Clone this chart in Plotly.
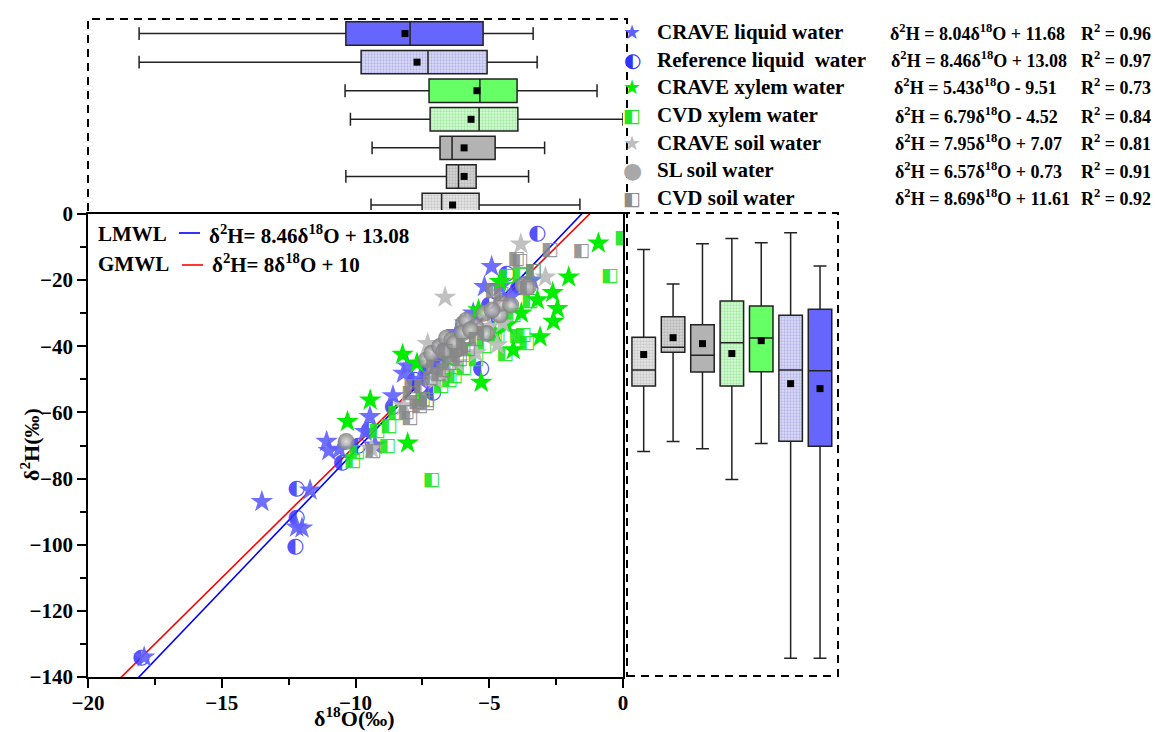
import plotly.graph_objects as go

W, H = 1155, 732
def fx(px): return px / W
def fy(py): return 1 - py / H

SERIF = "Liberation Serif"
GLYPH = "DejaVu Sans"

# ---------------- data ----------------
groups = ["CVD soil water", "SL soil water", "CRAVE soil water", "CVD xylem water",
          "CRAVE xylem water", "Reference liquid  water", "CRAVE liquid water"]
positions = [1, 2, 3, 4, 5, 6, 7]

# box statistics of δ18O (top panel)
o18_low  = [-9.42, -10.36, -9.38, -10.19, -10.39, -18.09, -18.09]
o18_q1   = [-7.51, -6.60, -6.84, -7.21, -7.25, -9.79, -10.36]
o18_med  = [-6.78, -6.15, -6.39, -5.38, -5.35, -7.29, -7.96]
o18_q3   = [-5.38, -5.49, -4.78, -3.93, -3.96, -5.08, -5.23]
o18_high = [-1.61, -3.53, -2.93, 0.0, -0.97, -3.21, -3.36]
o18_mean = [-6.37, -5.94, -5.94, -5.68, -5.46, -7.70, -8.15]

# box statistics of δ2H (right panel)
h2_low  = [-71.8, -68.8, -71.0, -80.3, -69.4, -134.3, -134.3]
h2_q1   = [-52.0, -41.8, -47.8, -52.0, -47.7, -68.7, -70.2]
h2_med  = [-47.2, -40.3, -42.7, -38.9, -37.5, -47.2, -47.4]
h2_q3   = [-37.3, -31.1, -33.5, -26.3, -27.8, -30.6, -28.8]
h2_high = [-10.7, -21.2, -9.0, -7.4, -8.7, -5.7, -15.7]
h2_mean = [-42.5, -37.4, -39.2, -42.2, -38.3, -51.3, -52.8]

# scatter samples
crave_liq_o = [-17.9, -13.5, -11.7, -12.2, -12.0, -11.08, -11.0, -10.6, -9.46, -9.64, -9.27,
               -8.06, -8.21, -6.22, -4.91, -5.18, -7.0, -6.6, -5.6, -4.2, -3.4, -7.6, -8.6,
               -4.6, -5.9, -6.9]
crave_liq_h = [-134.0, -87.0, -83.5, -94.7, -95.0, -68.8, -71.6, -71.2, -61.3, -65.8, -69.9,
               -46.0, -48.2, -35.9, -15.9, -22.0, -45.0, -40.0, -30.0, -25.0, -20.0, -50.0, -55.0,
               -22.0, -33.0, -43.0]

ref_liq_o = [-18.0, -12.2, -12.2, -12.25, -10.5, -9.9, -9.5, -8.6, -7.1, -7.8, -7.3, -5.3,
             -6.5, -6.0, -4.8, -5.0, -4.35, -3.9, -3.2, -6.8, -7.6]
ref_liq_h = [-134.1, -83.0, -91.7, -100.6, -75.2, -70.0, -65.3, -58.3, -54.1, -50.0, -47.5, -46.8,
             -43.0, -38.0, -31.0, -27.3, -18.2, -22.0, -6.0, -45.0, -52.0]

crave_xyl_o = [-10.3, -9.45, -8.24, -8.05, -7.7, -5.3, -5.4, -4.35, -4.1, -4.6, -3.2, -3.1,
               -2.6, -2.45, -2.63, -2.03, -0.92, -6.0, -6.5, -4.8, -5.8, -3.8]
crave_xyl_h = [-62.8, -56.3, -42.5, -69.3, -45.1, -50.9, -29.0, -33.6, -41.1, -20.5, -26.0, -37.2,
               -32.5, -28.6, -23.8, -19.1, -8.8, -40.0, -44.0, -36.0, -35.0, -30.0]

cvd_xyl_o = [-10.1, -9.95, -9.2, -8.8, -8.75, -8.5, -7.15, -7.5, -6.5, -6.3, -5.95, -4.4,
             -3.6, -3.95, -4.7, -4.8, -3.73, -4.1, -3.48, -4.35, -3.85, -3.35, -0.49, 0.0,
             -6.8, -5.5, -5.2]
cvd_xyl_h = [-74.9, -71.9, -65.8, -70.2, -64.3, -60.3, -80.4, -56.0, -50.2, -49.2, -46.7, -42.3,
             -39.1, -37.1, -37.1, -36.6, -36.6, -30.5, -26.5, -18.7, -18.4, -17.4, -18.7, -7.4,
             -52.0, -44.0, -40.0]

crave_soil_o = [-9.4, -8.2, -7.3, -7.0, -6.8, -6.65, -6.4, -6.2, -5.5, -5.0, -4.7, -4.5,
                -3.82, -2.9, -5.8]
crave_soil_h = [-71.0, -58.0, -39.2, -50.0, -47.8, -25.2, -43.0, -45.0, -42.0, -34.0, -39.6, -33.0,
                -9.1, -19.1, -36.0]

sl_soil_o = [-10.35, -7.35, -7.15, -6.85, -6.6, -6.4, -6.2, -6.1, -5.97, -5.85, -5.5, -5.1,
             -4.6, -4.55, -4.2, -3.73, -3.54, -6.7, -6.3, -5.2, -4.9, -6.0, -5.7]
sl_soil_h = [-68.8, -44.1, -42.1, -40.1, -37.6, -38.1, -41.0, -40.5, -33.1, -32.1, -34.1, -36.1,
             -30.5, -27.0, -27.5, -21.5, -22.0, -41.5, -39.0, -30.0, -29.0, -36.0, -35.0]

cvd_soil_o = [-9.35, -7.96, -7.34, -7.71, -7.96, -7.34, -7.9, -7.53, -7.21, -6.72, -7.09, -6.22,
              -6.65, -5.97, -5.5, -5.2, -4.85, -4.55, -3.6, -3.98, -3.85, -3.35, -2.73, -1.55,
              -6.9, -6.5, -6.1, -5.8, -7.6, -8.1]
cvd_soil_h = [-71.6, -61.8, -57.3, -56.8, -54.2, -56.2, -52.2, -52.2, -49.7, -47.2, -46.2, -42.6,
              -41.6, -39.6, -38.0, -36.0, -23.5, -24.2, -22.5, -13.6, -14.4, -17.4, -10.9, -11.4,
              -48.5, -45.0, -44.0, -41.0, -58.0, -60.0]

# water lines (slope, intercept)
lmwl = (8.46, 13.08)
gmwl = (8.0, 10.0)
line_x = [-20, 0]

# legend equations
eqs = ["δ<sup>2</sup>H = 8.04δ<sup>18</sup>O + 11.68",
       "δ<sup>2</sup>H = 8.46δ<sup>18</sup>O + 13.08",
       "δ<sup>2</sup>H = 5.43δ<sup>18</sup>O - 9.51",
       "δ<sup>2</sup>H = 6.79δ<sup>18</sup>O - 4.52",
       "δ<sup>2</sup>H = 7.95δ<sup>18</sup>O + 7.07",
       "δ<sup>2</sup>H = 6.57δ<sup>18</sup>O + 0.73",
       "δ<sup>2</sup>H = 8.69δ<sup>18</sup>O + 11.61"]
r2 = ["0.96", "0.97", "0.73", "0.84", "0.81", "0.91", "0.92"]
legend_names = ["CRAVE liquid water", "Reference liquid  water", "CRAVE xylem water",
                "CVD xylem water", "CRAVE soil water", "SL soil water", "CVD soil water"]

# ---------------- styles ----------------
box_bg = ["#E6E6E6", "#D6D6D6", "#B3B3B3", "#D8F8D8", "#66FF66", "#DCDCF6", "#6666FF"]
box_fg = ["#A8A8A8", "#9A9A9A", "#B3B3B3", "#66E066", "#66FF66", "#8C8CE0", "#6666FF"]
textured = [True, True, False, True, False, True, False]

fig = go.Figure()

# lines
fig.add_trace(go.Scatter(x=line_x, y=[gmwl[0] * v + gmwl[1] for v in line_x], mode="lines",
                         line=dict(color="#FF0000", width=1.6), xaxis="x", yaxis="y"))
fig.add_trace(go.Scatter(x=line_x, y=[lmwl[0] * v + lmwl[1] for v in line_x], mode="lines",
                         line=dict(color="#0000FF", width=1.6), xaxis="x", yaxis="y"))

def glyphs(xs, ys, ch, color, size):
    return go.Scatter(x=xs, y=ys, mode="text", text=[ch] * len(xs),
                      textposition="middle center",
                      textfont=dict(family=GLYPH, size=size, color=color),
                      xaxis="x", yaxis="y")

fig.add_trace(glyphs(ref_liq_o, ref_liq_h, "◐", "rgba(50,50,255,0.85)", 21))
fig.add_trace(go.Scatter(x=crave_liq_o, y=crave_liq_h, mode="markers",
                         marker=dict(symbol="star", size=17, color="rgba(95,95,255,0.9)", line=dict(width=0))))
fig.add_trace(go.Scatter(x=crave_xyl_o, y=crave_xyl_h, mode="markers",
                         marker=dict(symbol="star", size=17, color="rgba(0,238,0,1)", line=dict(width=0))))
fig.add_trace(glyphs(cvd_xyl_o, cvd_xyl_h, "◧", "rgba(20,230,20,0.9)", 19))
fig.add_trace(go.Scatter(x=crave_soil_o, y=crave_soil_h, mode="markers",
                         marker=dict(symbol="star", size=17, color="rgba(190,190,190,0.95)", line=dict(width=0))))
fig.add_trace(go.Scatter(x=sl_soil_o, y=sl_soil_h, mode="markers",
                         marker=dict(symbol="circle", size=17, color="rgba(125,125,125,0.85)",
                                     gradient=dict(type="radial", color="rgba(215,215,215,0.85)"),
                                     line=dict(width=0))))
fig.add_trace(glyphs(cvd_soil_o, cvd_soil_h, "◧", "rgba(135,135,135,0.85)", 19))

def pattern(i):
    if textured[i]:
        return dict(shape=".", fgcolor=box_fg[i], bgcolor=box_bg[i], size=3, solidity=0.45)
    return None

# top boxes (horizontal): textured body as bars, box outline/whiskers on top
for i, p in enumerate(positions):
    fig.add_trace(go.Bar(y=[p], x=[o18_q3[i] - o18_q1[i]], base=[o18_q1[i]], orientation="h",
                         width=0.82, marker=dict(color=box_bg[i], line=dict(width=0), pattern=pattern(i)),
                         xaxis="x2", yaxis="y2"))
for i, p in enumerate(positions):
    fig.add_trace(go.Box(y=[p], q1=[o18_q1[i]], median=[o18_med[i]], q3=[o18_q3[i]],
                         lowerfence=[o18_low[i]], upperfence=[o18_high[i]],
                         orientation="h", width=0.82, whiskerwidth=0.55,
                         fillcolor="rgba(0,0,0,0)", line=dict(color="#222222", width=1.5),
                         boxpoints=False, xaxis="x2", yaxis="y2"))
fig.add_trace(go.Scatter(x=o18_mean, y=positions, mode="markers",
                         marker=dict(symbol="square", size=7, color="black"),
                         xaxis="x2", yaxis="y2"))

# right boxes (vertical)
for i, p in enumerate(positions):
    fig.add_trace(go.Bar(x=[p], y=[h2_q3[i] - h2_q1[i]], base=[h2_q1[i]],
                         width=0.8, marker=dict(color=box_bg[i], line=dict(width=0), pattern=pattern(i)),
                         xaxis="x3", yaxis="y3"))
for i, p in enumerate(positions):
    fig.add_trace(go.Box(x=[p], q1=[h2_q1[i]], median=[h2_med[i]], q3=[h2_q3[i]],
                         lowerfence=[h2_low[i]], upperfence=[h2_high[i]],
                         width=0.8, whiskerwidth=0.55,
                         fillcolor="rgba(0,0,0,0)", line=dict(color="#222222", width=1.5),
                         boxpoints=False, xaxis="x3", yaxis="y3"))
fig.add_trace(go.Scatter(x=positions, y=h2_mean, mode="markers",
                         marker=dict(symbol="square", size=7, color="black"),
                         xaxis="x3", yaxis="y3"))

tickfont = dict(family=SERIF, size=21, color="black", weight="bold")
main_x = [fx(88), fx(623)]
main_y = [fy(677), fy(214)]

fig.update_layout(
    width=W, height=H, margin=dict(l=0, r=0, t=0, b=0, autoexpand=False),
    paper_bgcolor="white", plot_bgcolor="white", showlegend=False,
    barmode="overlay", boxmode="overlay",
    xaxis=dict(domain=main_x, range=[-20, 0], anchor="y", showgrid=False, zeroline=False,
               automargin=False,
               showline=True, mirror=True, linecolor="black", linewidth=1.5,
               ticks="outside", ticklen=9, tickwidth=1.5, tickcolor="black", dtick=5,
               tickfont=tickfont, ticklabelstandoff=-3,
               minor=dict(ticks="outside", ticklen=6, dtick=2.5, tickcolor="black", tickwidth=1.5)),
    yaxis=dict(domain=main_y, range=[-140, 0], anchor="x", showgrid=False, zeroline=False,
               automargin=False,
               showline=True, mirror=True, linecolor="black", linewidth=1.5,
               ticks="outside", ticklen=9, tickwidth=1.5, tickcolor="black", dtick=20,
               tickfont=tickfont,
               minor=dict(ticks="outside", ticklen=6, dtick=10, tickcolor="black", tickwidth=1.5)),
    xaxis2=dict(domain=main_x, range=[-20, 0], anchor="y2", visible=False, automargin=False),
    yaxis2=dict(domain=[fy(210), fy(20)], range=[0.825, 7.475], anchor="x2", visible=False, automargin=False),
    xaxis3=dict(domain=[fx(627), fx(838)], range=[0.432, 7.612], anchor="y3", visible=False, automargin=False),
    yaxis3=dict(domain=main_y, range=[-140, 0], anchor="x3", visible=False, automargin=False),
)

# axis titles
title_font = dict(family=SERIF, size=22, color="black", weight="bold")
fig.add_annotation(xref="paper", yref="paper", x=fx(355), y=fy(717), text="δ<sup>18</sup>O(‰)",
                   showarrow=False, xanchor="center", yanchor="middle", font=title_font)
fig.add_annotation(xref="paper", yref="paper", x=fx(30), y=fy(445), text="δ<sup>2</sup>H(‰)",
                   showarrow=False, xanchor="center", yanchor="middle", textangle=-90, font=title_font)

# dashed frames
dash = "8px,6px"
fig.add_shape(type="rect", xref="paper", yref="paper", x0=fx(88), x1=fx(627), y0=fy(213), y1=fy(19),
              line=dict(color="black", width=2, dash=dash))
fig.add_shape(type="rect", xref="paper", yref="paper", x0=fx(627), x1=fx(838), y0=fy(676), y1=fy(213),
              line=dict(color="black", width=2, dash=dash))

# inner legend (water lines)
fig.add_shape(type="line", xref="paper", yref="paper", x0=fx(179), x1=fx(200), y0=fy(233), y1=fy(233),
              line=dict(color="#0000FF", width=1.6))
fig.add_shape(type="line", xref="paper", yref="paper", x0=fx(182), x1=fx(203), y0=fy(265), y1=fy(265),
              line=dict(color="#FF0000", width=1.6))
inner_font = dict(family=SERIF, size=21, color="black", weight="bold")
for txt, x, y in [("LMWL", 96, 234), ("GMWL", 96, 264),
                  ("δ<sup>2</sup>H= 8.46δ<sup>18</sup>O + 13.08", 207, 234),
                  ("δ<sup>2</sup>H= 8δ<sup>18</sup>O + 10", 210, 264)]:
    fig.add_annotation(xref="paper", yref="paper", x=fx(x), y=fy(y), text=txt, showarrow=False,
                       xanchor="left", yanchor="middle", font=inner_font)

# outer legend
row_y = [32, 60, 87, 115, 143, 170, 198]
sym = [("★", "#5F5FFF", 20), ("◐", "#3333FF", 20), ("★", "#00EE00", 20), ("◧", "#22E622", 19),
       ("★", "#BEBEBE", 20), ("●", "#A8A8A8", 22), ("◧", "#8C8C8C", 19)]
leg_font = dict(family=SERIF, size=21, color="black", weight="bold")
eq_font = dict(family=SERIF, size=18, color="black", weight="bold")
eq_x = [888, 889, 892, 893, 893, 893, 893]
for i, y in enumerate(row_y):
    ch, col, sz = sym[i]
    fig.add_annotation(xref="paper", yref="paper", x=fx(632), y=fy(y), text=ch, showarrow=False,
                       xanchor="center", yanchor="middle", font=dict(family=GLYPH, size=sz, color=col))
    fig.add_annotation(xref="paper", yref="paper", x=fx(655), y=fy(y), text=legend_names[i],
                       showarrow=False, xanchor="left", yanchor="middle", font=leg_font)
    fig.add_annotation(xref="paper", yref="paper", x=fx(eq_x[i]), y=fy(y), text=eqs[i],
                       showarrow=False, xanchor="left", yanchor="middle", font=eq_font)
    fig.add_annotation(xref="paper", yref="paper", x=fx(1079), y=fy(y), text="R<sup>2</sup> = " + r2[i],
                       showarrow=False, xanchor="left", yanchor="middle", font=eq_font)

fig.write_html("out.html")
